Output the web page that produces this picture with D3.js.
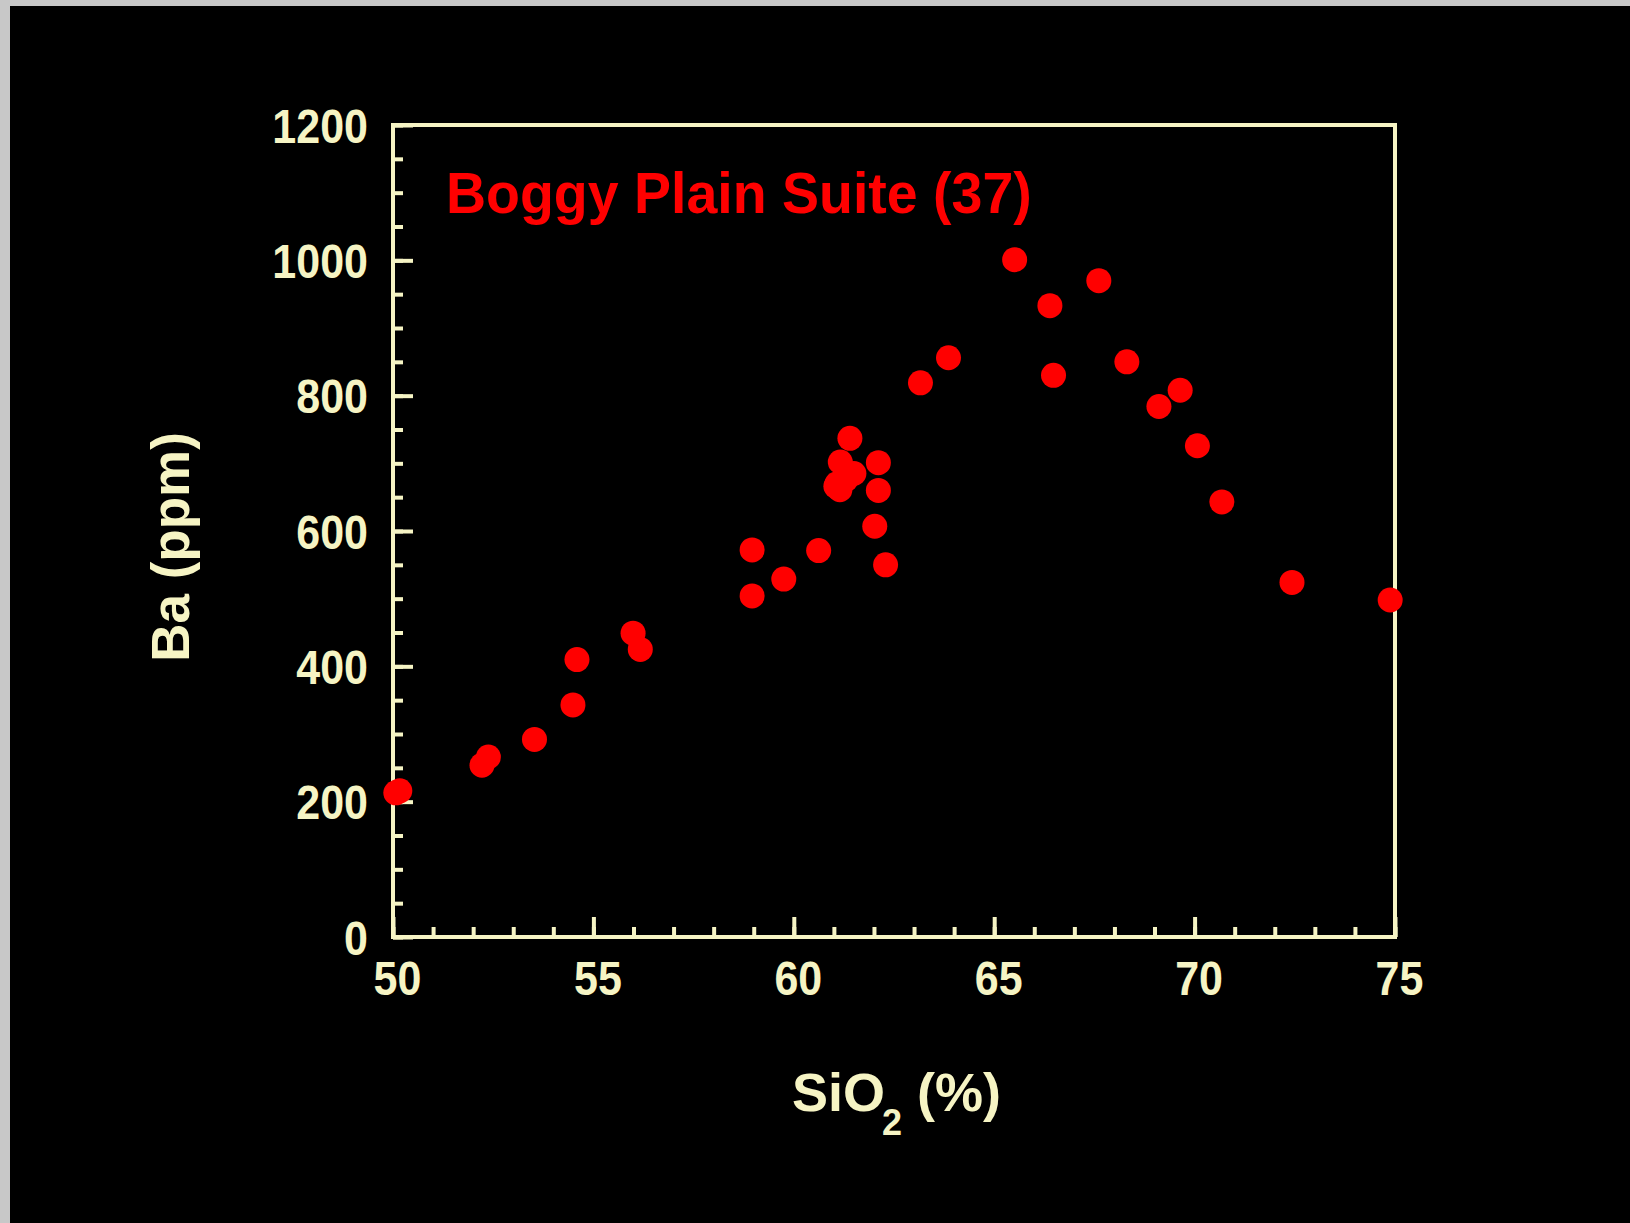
<!DOCTYPE html>
<html><head><meta charset="utf-8">
<script src="https://cdn.jsdelivr.net/npm/d3@7"></script>
<style>html,body{margin:0;padding:0;background:#000;overflow:hidden}</style>
</head><body>
<svg id="c" width="1630" height="1223"></svg>
<script>
// SiO2 (%) and Ba (ppm) for the Boggy Plain Suite samples
const silica = [50.07, 50.17, 52.22, 52.38, 53.53, 54.49, 54.59, 55.99, 56.17,
  58.96, 58.96, 59.75, 60.62, 61.40, 61.16, 61.50, 61.08, 61.15, 61.30, 62.11, 62.11,
  62.02, 62.29, 63.16, 63.86, 65.51, 66.39, 66.48, 67.61, 68.31, 69.11, 69.64,
  70.07, 70.68, 72.43, 74.88, 61.05];
const barium = [213, 216, 254, 266, 292, 343, 410, 449, 425,
  504, 572, 529, 571, 737, 702, 685, 670, 661, 676, 701, 660,
  607, 550, 819, 856, 1001, 933, 830, 970, 850, 784, 808,
  726, 643, 524, 498, 666];
const xTicks = [50, 55, 60, 65, 70, 75];
const yTicks = [0, 200, 400, 600, 800, 1000, 1200];
const suiteLabel = "Boggy Plain Suite (37)";
const xTitle = ["SiO", "2", "(%)"];
const yTitle = "Ba (ppm)";

const pale = "#f6f4c4", red = "#ff0000";
const svg = d3.select("#c");
svg.append("rect").attr("width", 1630).attr("height", 1223).attr("fill", "#c8c8c8");
svg.append("rect").attr("x", 10).attr("y", 6).attr("width", 1620).attr("height", 1217).attr("fill", "#000");

const L = 393, R = 1395, T = 125, B = 937;
const x = d3.scaleLinear().domain([50, 75]).range([L, R]);
const y = d3.scaleLinear().domain([0, 1200]).range([B, T]);

function styleAxis(g) {
  g.select(".domain").remove();
  g.selectAll("line").attr("stroke", pale).attr("stroke-width", 4);
  g.selectAll("text").remove();
}
// x ticks (inward)
svg.append("g").attr("transform", `translate(0,${B})`)
  .call(d3.axisBottom(x).tickValues(d3.range(50, 76, 1)).tickSize(-10).tickFormat("")).call(styleAxis);
svg.append("g").attr("transform", `translate(0,${B})`)
  .call(d3.axisBottom(x).tickValues(xTicks).tickSize(-20).tickFormat("")).call(styleAxis);
// y ticks (inward)
svg.append("g").attr("transform", `translate(${L},0)`)
  .call(d3.axisLeft(y).tickValues(d3.range(0, 1201, 50)).tickSize(-10).tickFormat("")).call(styleAxis);
svg.append("g").attr("transform", `translate(${L},0)`)
  .call(d3.axisLeft(y).tickValues(yTicks).tickSize(-20).tickFormat("")).call(styleAxis);

// frame
svg.append("rect").attr("x", L).attr("y", T).attr("width", R - L).attr("height", B - T)
  .attr("fill", "none").attr("stroke", pale).attr("stroke-width", 4);

const font = "'Liberation Sans', Arial, sans-serif";
// tick labels
svg.append("g").selectAll("text").data(xTicks).join("text")
  .attr("transform", d => `translate(${x(d) + 4.5},995) scale(1,1.12)`)
  .attr("text-anchor", "middle").attr("font-family", font).attr("font-weight", "bold")
  .attr("font-size", 43).attr("fill", pale).text(d => d);
svg.append("g").selectAll("text").data(yTicks).join("text")
  .attr("transform", d => `translate(368,${y(d) + 17.5}) scale(1,1.12)`)
  .attr("text-anchor", "end").attr("font-family", font).attr("font-weight", "bold")
  .attr("font-size", 43).attr("fill", pale).text(d => d);

// axis titles
const xt = svg.append("text").attr("font-family", font).attr("font-weight", "bold")
  .attr("font-size", 54).attr("fill", pale).attr("y", 1111);
xt.append("tspan").attr("x", 792).text(xTitle[0]);
xt.append("tspan").attr("x", 882).attr("dy", 24).attr("font-size", 36).text(xTitle[1]);
xt.append("tspan").attr("x", 917).attr("dy", -24).text(xTitle[2]);

svg.append("text").attr("transform", "translate(189,547) rotate(-90)")
  .attr("text-anchor", "middle").attr("font-family", font).attr("font-weight", "bold")
  .attr("font-size", 53).attr("fill", pale).text(yTitle);

// suite label
svg.append("text").attr("transform", "translate(446,213) scale(1,1.05)")
  .attr("font-family", font).attr("font-weight", "bold").attr("font-size", 55.5)
  .attr("fill", red).text(suiteLabel);

// points
svg.append("g").selectAll("circle").data(d3.range(silica.length)).join("circle")
  .attr("cx", i => x(silica[i])).attr("cy", i => y(barium[i])).attr("r", 12.5)
  .attr("fill", red);
</script>
</body></html>
